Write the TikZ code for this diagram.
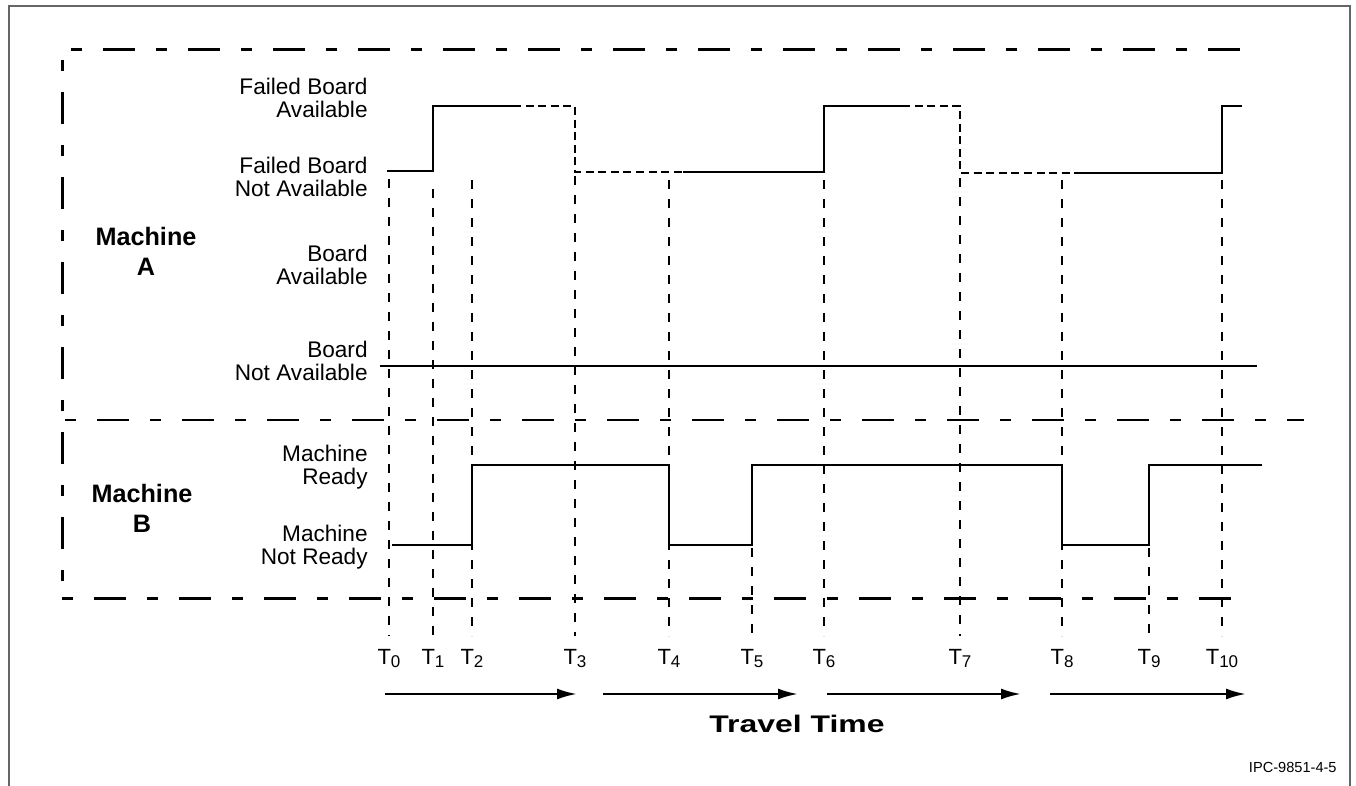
\documentclass[tikz,border=0pt]{standalone}
\usepackage{fontspec}
\setmainfont{Liberation Sans}
\usepackage{graphicx}
\usetikzlibrary{arrows.meta, positioning}

\newcommand{\tsub}[1]{T\raisebox{-1.5pt}{\fontsize{8.5}{9}\selectfont #1}}

\begin{document}
\begin{tikzpicture}[x=0.5pt, y=-0.5pt, >=Latex,
    frame/.style={draw=black!60, line width=1pt},
    region/.style={line width=1.5pt, dash pattern=on 16pt off 10.5pt on 5.5pt off 10.5pt},
    regionshort/.style={region, dash phase=26.5pt},
    divider/.style={line width=0.9pt, dash pattern=on 5.5pt off 10.5pt on 16pt off 10.5pt},
    signal/.style={line width=1.3pt},
    unsure/.style={line width=1.2pt, dash pattern=on 4pt off 2.3pt},
    marker/.style={line width=1.1pt, dash pattern=on 4.3pt off 5.2pt},
    level/.style={align=right, anchor=east, inner sep=0pt, font=\fontsize{11.3}{11.5}\selectfont},
    machine/.style={align=center, inner sep=0pt, font=\fontsize{12.6}{15}\selectfont\bfseries},
    tick/.style={anchor=base, inner sep=0pt, font=\fontsize{11}{13}\selectfont},
    travel/.style={line width=1.2pt, -{Latex[length=10pt, width=5.5pt]}}]

\useasboundingbox (0,0) rectangle (1356,786);
\draw[frame] (9,786) -- (9,6) -- (1350,6) -- (1350,786);

% machine regions
\draw[region] (1240,50) -- (62,50);
\draw[regionshort] (62,60) -- (62,598);
\draw[regionshort] (62,598) -- (1237,598);
\draw[divider] (65,420) -- (1304,420);

% state labels
\node[level] (fba) at (368,98) {Failed Board\\Available};
\node[level] (fbna) at (368,177) {Failed Board\\Not Available};
\node[level] (ba) at (368,265) {Board\\Available};
\node[level] (bna) at (368,361) {Board\\Not Available};
\node[level] (mr) at (368,467) {Machine\\Ready};
\node[level] (mnr) at (368,547) {Machine\\Not Ready};
\node[machine] (ma) at (146,251) {Machine\\A};
\node[machine] (mb) at (142,508) {Machine\\B};

% time markers
\foreach \n/\x/\s in {0/389/179, 1/433/189, 2/472/180, 3/575/176, 4/669/180, 5/752/548,
                      6/824/180, 7/960/178, 8/1062/180, 9/1149/548, 10/1222/180} {
  \draw[marker] (\x,\s) -- (\x,636);
  \node[tick] (t\n) at (\x,664) {\tsub{\n}};
}

% machine A
\draw[signal] (387,171) -- (433,171) -- (433,106) -- (513,106);
\draw[unsure] (513,106) -- (575,106) -- (575,172) -- (683,172);
\draw[signal] (683,172) -- (824,172) -- (824,106) -- (902,106);
\draw[unsure] (902,106) -- (960,106) -- (960,173) -- (1082,173);
\draw[signal] (1082,173) -- (1222,173) -- (1222,106) -- (1242,106);
\draw[signal] (380,366) -- (1257,366);

% machine B
\draw[signal] (392,545) -- (472,545) -- (472,465) -- (669,465) -- (669,545) -- (752,545)
  -- (752,465) -- (1062,465) -- (1062,545) -- (1149,545) -- (1149,465) -- (1262,465);

% travel time
\coordinate (s1) at (385,694);  \coordinate (e1) at (577,694);
\coordinate (s2) at (603,694);  \coordinate (e2) at (798,694);
\coordinate (s3) at (827,694);  \coordinate (e3) at (1021,694);
\coordinate (s4) at (1050,694); \coordinate (e4) at (1246,694);
\draw[travel] (s1) -- (e1);
\draw[travel] (s2) -- (e2);
\draw[travel] (s3) -- (e3);
\draw[travel] (s4) -- (e4);
\node[font=\fontsize{12}{14}\selectfont\bfseries] (travel) at (797,724) {\scalebox{1.33}[1]{Travel Time}};

\node[anchor=east, inner sep=0pt, font=\fontsize{7.3}{9}\selectfont] (ipc) at (1337,767) {IPC-9851-4-5};
\end{tikzpicture}
\end{document}
